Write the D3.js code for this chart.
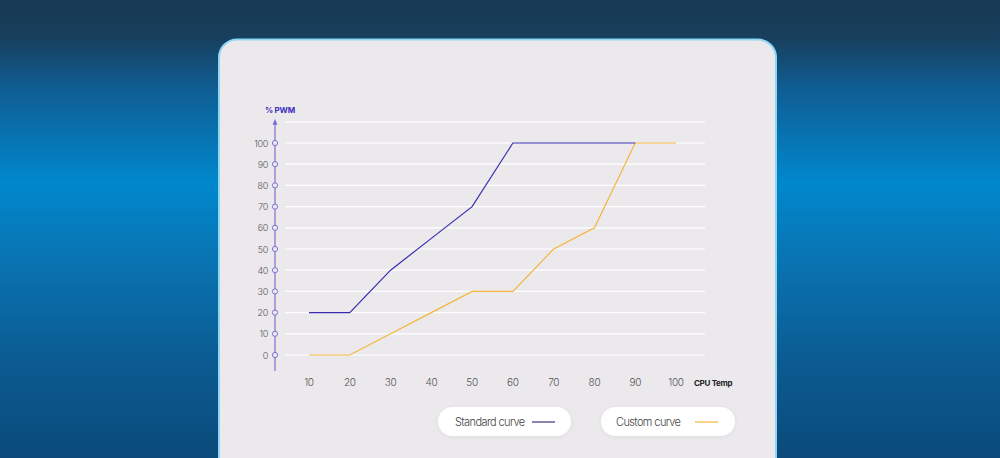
<!DOCTYPE html>
<html><head><meta charset="utf-8">
<script src="https://cdn.jsdelivr.net/npm/d3@7"></script>
<style>html,body{margin:0;padding:0;width:1000px;height:458px;overflow:hidden;}</style>
</head><body>
<svg id="c" width="1000" height="458"></svg>
<script>
const temps = [10,20,30,40,50,60,70,80,90,100];
const standardCurve = [20,20,40,55,70,100,100,100,100];
const customCurve = [0,0,10,20,30,30,50,60,100,100];
const yTicks = [0,10,20,30,40,50,60,70,80,90,100];
const yLabel = "% PWM";
const xLabel = "CPU Temp";
const legendNames = ["Standard curve","Custom curve"];
const colors = {standard:"#3a2cb0", custom:"#f5b53c"};

const svg = d3.select("#c");
const defs = svg.append("defs");
const bg = defs.append("linearGradient").attr("id","bg").attr("x1",0).attr("y1",0).attr("x2",0).attr("y2",1);
[[0,"#173953"],[0.08,"#183f5d"],[0.2,"#0f5f96"],[0.4,"#0088cc"],[0.6,"#0a70ad"],[0.8,"#0b5a90"],[1,"#0b4a7b"]]
 .forEach(([o,c])=>bg.append("stop").attr("offset",o).attr("stop-color",c));
svg.append("rect").attr("width",1000).attr("height",458).attr("fill","url(#bg)");

const sh = defs.append("filter").attr("id","sh").attr("x","-20%").attr("y","-40%").attr("width","140%").attr("height","180%");
sh.append("feDropShadow").attr("dx",0).attr("dy",1).attr("stdDeviation",2).attr("flood-color","#000").attr("flood-opacity",0.06);

// card
svg.append("rect").attr("x",219).attr("y",39.5).attr("width",557).attr("height",440).attr("rx",18)
  .attr("fill","#ebe9ec").attr("stroke","#8fd6f4").attr("stroke-width",2);

const x = d3.scaleLinear().domain([10,100]).range([309,676]);
const y = d3.scaleLinear().domain([0,100]).range([355,143]);

const g = svg.append("g");
// gridlines
g.selectAll("line.grid").data(yTicks.concat([110])).join("line")
  .attr("x1",285).attr("x2",705).attr("y1",d=>y(d)).attr("y2",d=>y(d))
  .attr("stroke","#ffffff").attr("stroke-width",1.2);

// y axis
const axisColor = "#7d70d2";
g.append("line").attr("x1",275).attr("x2",275).attr("y1",y(110)+2).attr("y2",371)
  .attr("stroke",axisColor).attr("stroke-width",1.2);
g.append("path").attr("d",`M275,${y(110)-3} l-2.5,6 h5 z`).attr("fill",axisColor);
g.selectAll("circle.tk").data(yTicks).join("circle")
  .attr("cx",275).attr("cy",d=>y(d)).attr("r",2.6)
  .attr("fill","#ebe9ec").attr("stroke",axisColor).attr("stroke-width",1);
g.selectAll("text.yl").data(yTicks).join("text")
  .attr("x",268).attr("y",d=>y(d)+3.5).attr("text-anchor","end")
  .attr("font-family","Inter, 'Noto Sans', sans-serif").attr("font-size",9).attr("font-weight",300)
  .attr("letter-spacing",-0.3).attr("fill","#555")
  .text(d=>d);
g.append("text").attr("x",265).attr("y",113).attr("font-family","Inter, sans-serif")
  .attr("font-size",8).attr("font-weight",700).attr("letter-spacing",-0.2).attr("fill","#3a2cc0").text(yLabel);

// x labels
g.selectAll("text.xl").data(temps).join("text")
  .attr("x",d=>x(d)).attr("y",386).attr("text-anchor","middle")
  .attr("font-family","Inter, 'Noto Sans', sans-serif").attr("font-size",10).attr("font-weight",300)
  .attr("letter-spacing",-0.3).attr("fill","#555")
  .text(d=>d);
g.append("text").attr("x",694).attr("y",386).attr("font-family","Inter, sans-serif")
  .attr("font-size",8).attr("font-weight",700).attr("letter-spacing",-0.3).attr("fill","#222").text(xLabel);

// lines
const line = d3.line().x(d=>x(d[0])).y(d=>y(d[1]));
g.append("path").datum(customCurve.map((v,i)=>[temps[i],v])).attr("d",line)
  .attr("fill","none").attr("stroke",colors.custom).attr("stroke-width",1.2);
g.append("path").datum(standardCurve.map((v,i)=>[temps[i],v])).attr("d",line)
  .attr("fill","none").attr("stroke",colors.standard).attr("stroke-width",1.2);

// legend
const leg = [{name:legendNames[0],c:"#3a3680",x:438,w:133,tx:455,lx:532},
             {name:legendNames[1],c:colors.custom,x:601,w:134,tx:616,lx:695}];
const lg = svg.selectAll("g.leg").data(leg).join("g");
lg.append("rect").attr("x",d=>d.x).attr("y",407).attr("width",d=>d.w).attr("height",29).attr("rx",14.5)
  .attr("fill","#ffffff").attr("filter","url(#sh)");
lg.append("text").attr("x",d=>d.tx).attr("y",426).attr("font-family","Inter, 'Noto Sans', sans-serif")
  .attr("font-size",11).attr("font-weight",300).attr("letter-spacing",-0.6).attr("fill","#444").text(d=>d.name);
lg.append("line").attr("x1",d=>d.lx).attr("x2",d=>d.lx+23).attr("y1",422).attr("y2",422)
  .attr("stroke",d=>d.c).attr("stroke-width",1.2);
</script>
</body></html>
